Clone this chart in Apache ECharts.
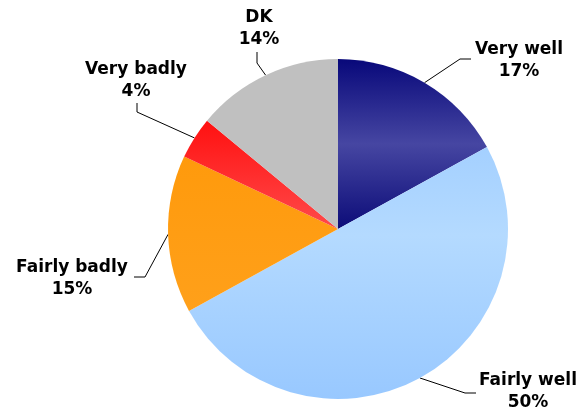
<!DOCTYPE html>
<html><head><meta charset="utf-8">
<script src="https://cdn.jsdelivr.net/npm/echarts@6/dist/echarts.min.js"></script>
<style>html,body{margin:0;padding:0;background:#fff}#c{width:584px;height:407px}</style>
</head><body><div id="c"></div>
<script>
const categories = ['Very well', 'Fairly well', 'Fairly badly', 'Very badly', 'DK'];
const values = [17, 50, 15, 4, 14];

function grad(stops) {
  return { type: 'linear', x: 0, y: 0, x2: 0, y2: 1,
    colorStops: stops.map(s => ({ offset: s[0], color: s[1] })) };
}
const colors = [
  grad([[0, '#08087a'], [0.5, '#4646a2'], [1, '#0c0c78']]),
  grad([[0, '#a4d0ff'], [0.35, '#b4daff'], [1, '#98c8ff']]),
  grad([[0, '#ff9a0c'], [1, '#ffa01a']]),
  grad([[0, '#ff1010'], [1, '#ff4a4a']]),
  '#c0c0c0'
];
// label centre and line bend points per slice (layout only)
const labelPos = [
  { x: 519, y: 61, pts: [[460, 59], [471, 59]] },
  { x: 528, y: 392, pts: [[465, 393], [476, 393]] },
  { x: 72, y: 279, pts: [[145, 277], [134, 277]] },
  { x: 136, y: 81, pts: [[137, 112], [137, 103]] },
  { x: 259, y: 29, pts: [[257, 63], [257, 52]] }
];

const chart = echarts.init(document.getElementById('c'), null, { renderer: 'canvas' });
chart.setOption({
  animation: false,
  series: [{
    type: 'pie',
    center: [338, 229],
    radius: 170,
    startAngle: 90,
    clockwise: true,
    data: categories.map((n, i) => ({ name: n, value: values[i], itemStyle: { color: colors[i] } })),
    label: {
      show: true,
      formatter: '{b}\n{c}%',
      fontFamily: 'DejaVu Sans',
      fontWeight: 'bold',
      fontSize: 17,
      lineHeight: 22,
      color: '#000',
      align: 'center'
    },
    labelLine: { show: true, length: 20, length2: 10, lineStyle: { color: '#000', width: 1 } },
    labelLayout: function (p) {
      const lp = labelPos[p.dataIndex];
      const start = p.labelLinePoints ? p.labelLinePoints[0] : lp.pts[0];
      return { x: lp.x, y: lp.y, align: 'center', verticalAlign: 'middle',
        labelLinePoints: [start, lp.pts[0], lp.pts[1]] };
    },
    emphasis: { disabled: true }
  }]
});
</script></body></html>
